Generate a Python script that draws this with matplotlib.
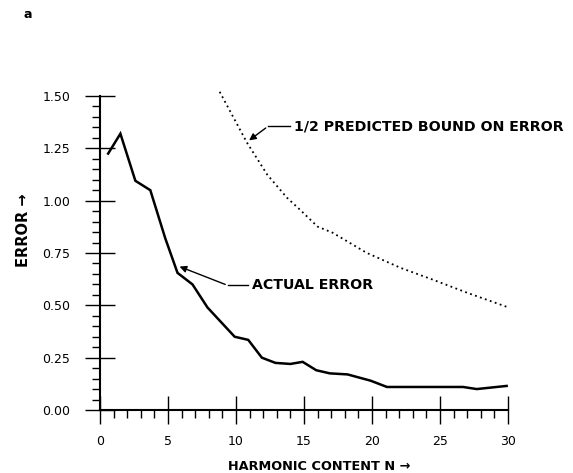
import matplotlib
matplotlib.use("Agg")
import matplotlib.pyplot as plt
from matplotlib.ticker import MultipleLocator

# Data
actual_n = [0.6, 1.5, 2.6, 3.7, 4.8, 5.7, 6.8, 7.9, 9.9, 10.9, 11.9, 12.9, 14.0, 14.9,
            15.9, 16.9, 18.2, 19.9, 21.1, 26.7, 27.7, 29.9]
actual_err = [1.225, 1.32, 1.095, 1.05, 0.82, 0.655, 0.60, 0.49, 0.35, 0.335, 0.25, 0.225,
              0.22, 0.23, 0.19, 0.175, 0.17, 0.14, 0.11, 0.11, 0.10, 0.115]

bound_n = [8.8, 10.8, 12.3, 13.75, 14.7, 16.0, 17.1, 19.6, 22.1, 24.5, 27.0, 29.9]
bound_err = [1.52, 1.278, 1.124, 1.014, 0.957, 0.876, 0.847, 0.751, 0.679, 0.622, 0.56, 0.493]

x_ticks = [0, 5, 10, 15, 20, 25, 30]
y_ticks = [0.00, 0.25, 0.50, 0.75, 1.00, 1.25, 1.50]
y_tick_labels = ["0.00", "0.25", "0.50", "0.75", "1.00", "1.25", "1.50"]

plt.rcParams['font.family'] = ['DejaVu Sans']

fig = plt.figure(figsize=(5.73, 4.73), dpi=100)
ax = fig.add_axes([100/573, 63/473, 408/573, 314/473])

ax.plot(actual_n, actual_err, color='black', lw=1.8, clip_on=False, solid_joinstyle='miter')
ax.plot(bound_n, bound_err, color='black', lw=1.3, linestyle=(0, (1, 1.9)), clip_on=False)

ax.set_xlim(0, 30)
ax.set_ylim(0, 1.5)
for s in ['top', 'right']:
    ax.spines[s].set_visible(False)
ax.spines['left'].set_linewidth(1.5)
ax.spines['bottom'].set_linewidth(1.5)

ax.set_xticks(x_ticks)
ax.set_xticklabels([str(t) for t in x_ticks])
ax.set_yticks(y_ticks)
ax.set_yticklabels(y_tick_labels)
ax.xaxis.set_minor_locator(MultipleLocator(1))
ax.yaxis.set_minor_locator(MultipleLocator(0.05))
ax.tick_params(which='major', direction='inout', length=20, width=1.0, labelsize=9)
ax.tick_params(axis='y', which='major', length=21, pad=11)
ax.tick_params(axis='x', which='major', pad=8)
ax.tick_params(which='minor', direction='out', length=6, width=1.0)

ann_font = dict(fontsize=10.2, fontweight='bold')

ax.annotate('', xy=(5.66, 0.69), xytext=(9.4, 0.595),
            arrowprops=dict(arrowstyle='-|>', color='black', lw=1.0, mutation_scale=10))
ax.plot([9.4, 10.9], [0.595, 0.595], color='black', lw=1.0)
ax.text(11.15, 0.595, 'ACTUAL ERROR', va='center', ha='left', **ann_font)

ax.annotate('', xy=(10.8, 1.28), xytext=(12.35, 1.355),
            arrowprops=dict(arrowstyle='-|>', color='black', lw=1.0, mutation_scale=10))
ax.plot([12.35, 14.0], [1.355, 1.355], color='black', lw=1.0)
ax.text(14.3, 1.355, '1/2 PREDICTED BOUND ON ERROR', va='center', ha='left',
        clip_on=False, **ann_font)

fig.text(228/573, 1 - 466/473, 'HARMONIC CONTENT N \u2192', fontsize=9.3, fontweight='bold',
         va='center', ha='left')
fig.text(24/573, 1 - 230/473, 'ERROR \u2192', fontsize=10.5, fontweight='bold',
         va='center', ha='center', rotation=90)
fig.text(28/573, 1 - 15/473, 'a', fontsize=9, fontweight='bold', va='center', ha='center')

fig.savefig('out.png', dpi=100)
